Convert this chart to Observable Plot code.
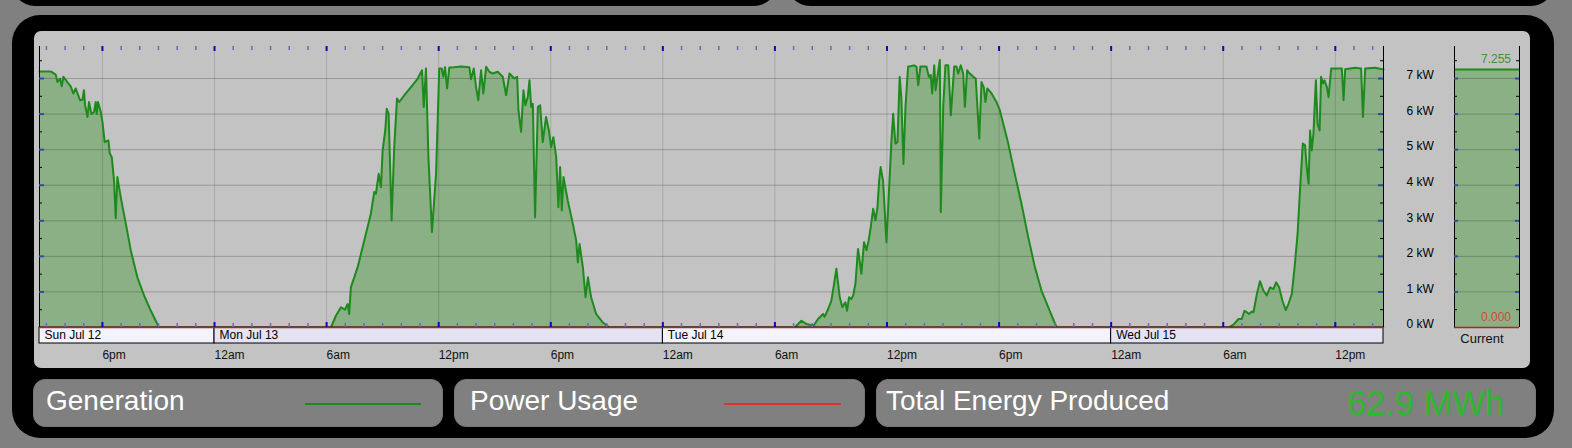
<!DOCTYPE html>
<html><head><meta charset="utf-8">
<script src="https://cdn.jsdelivr.net/npm/d3@7"></script>
<script src="https://cdn.jsdelivr.net/npm/@observablehq/plot@0.6"></script>
<style>
html,body{margin:0;padding:0;background:#808080;width:1572px;height:448px;overflow:hidden;font-family:"Liberation Sans",Arial,sans-serif;}
.abs{position:absolute;}
.box{position:absolute;background:#808080;border-radius:12px;border:1px solid #767676;box-sizing:border-box;}
</style></head><body>
<div class="abs" style="left:12px;top:-40px;width:765px;height:46px;background:#000;border-radius:28px"></div>
<div class="abs" style="left:787px;top:-40px;width:767px;height:46px;background:#000;border-radius:28px"></div>
<div class="abs" style="left:12px;top:15px;width:1542px;height:423px;background:#000;border-radius:28px"></div>
<div class="abs" style="left:34px;top:31px;width:1496px;height:337px;background:#c3c3c3;border-radius:7px"></div>
<div id="main" class="abs" style="left:34px;top:31px"></div>
<div id="cur" class="abs" style="left:1440px;top:31px"></div>

<div class="box" style="left:33px;top:379px;width:410px;height:48px"></div>
<div class="box" style="left:454px;top:379px;width:411px;height:48px"></div>
<div class="box" style="left:876px;top:379px;width:660px;height:48px"></div>
<div id="legend"></div>

<script>
// ---------- data (hours relative to Mon Jul 13 2015 00:00, kW) ----------
const sunday = [[-9.37,7.2],[-8.77,7.2],[-8.50,7.11],[-8.41,6.9],[-8.27,7.0],[-8.18,6.78],[-8.09,7.05],[-7.88,6.9],[-7.70,6.78],[-7.56,6.58],[-7.43,6.72],[-7.20,6.39],[-7.07,6.4],[-6.99,6.67],[-6.93,6.25],[-6.80,5.92],[-6.72,6.34],[-6.59,6.0],[-6.45,6.06],[-6.36,6.34],[-6.31,6.0],[-6.24,6.34],[-6.09,6.06],[-6.0,5.78],[-5.88,5.21],[-5.68,5.26],[-5.61,4.9],[-5.50,4.79],[-5.38,4.13],[-5.29,3.07],[-5.20,4.23],[-5.02,3.66],[-4.75,2.92],[-4.48,2.16],[-4.13,1.41],[-3.77,0.9],[-3.41,0.47],[-2.97,0]];
const monday = [[6.23,0],[6.50,0.33],[6.77,0.57],[6.98,0.5],[7.13,0.66],[7.21,0.38],[7.30,1.13],[7.66,1.69],[8.02,2.45],[8.37,3.2],[8.55,3.81],[8.64,3.76],[8.79,4.32],[8.91,3.95],[9.00,4.98],[9.14,5.54],[9.22,6.15],[9.32,6.01],[9.48,3.01],[9.62,5.07],[9.77,6.44],[9.89,6.34],[10.16,6.53],[10.52,6.76],[10.88,7.0],[11.11,7.23],[11.20,6.2],[11.32,7.28],[11.45,4.79],[11.64,2.68],[11.86,4.32],[12.03,7.28],[12.16,7.28],[12.25,7.05],[12.34,7.32],[12.45,6.72],[12.57,7.31],[12.84,7.32],[13.20,7.34],[13.64,7.32],[13.73,6.98],[13.88,7.28],[14.00,6.76],[14.12,6.39],[14.27,7.23],[14.39,6.58],[14.54,7.33],[14.71,7.19],[14.90,7.14],[15.16,7.19],[15.43,7.05],[15.61,6.53],[15.79,7.14],[16.05,7.0],[16.20,7.05],[16.27,6.11],[16.41,5.5],[16.54,6.67],[16.64,6.25],[16.77,6.48],[16.86,6.95],[16.95,6.2],[17.04,6.29],[17.16,3.1],[17.31,6.2],[17.43,6.25],[17.57,5.21],[17.75,5.92],[17.90,5.54],[18.02,5.07],[18.14,5.35],[18.29,4.79],[18.41,3.38],[18.50,4.51],[18.59,3.29],[18.68,4.23],[18.91,3.57],[19.18,2.92],[19.36,2.45],[19.45,1.83],[19.54,2.35],[19.72,1.69],[19.86,0.85],[19.99,1.41],[20.16,0.85],[20.43,0.38],[20.79,0.14],[21.14,0]];
const tuesday = [[31.06,0],[31.42,0.19],[31.68,0.1],[32.07,0.05],[32.31,0.24],[32.58,0.38],[32.66,0.3],[32.85,0.52],[33.02,0.75],[33.17,1.23],[33.29,1.65],[33.47,0.85],[33.61,0.57],[33.77,0.71],[33.86,0.47],[33.97,0.85],[34.09,0.8],[34.19,0.9],[34.31,1.23],[34.45,2.21],[34.63,1.51],[34.77,2.4],[34.90,2.17],[35.02,2.45],[35.13,2.82],[35.26,3.34],[35.38,3.01],[35.49,3.38],[35.58,4.13],[35.66,4.51],[35.79,4.13],[35.97,2.4],[36.09,3.66],[36.24,5.26],[36.33,6.01],[36.45,5.17],[36.56,5.21],[36.68,7.05],[36.77,6.44],[36.88,4.6],[36.99,6.2],[37.13,7.33],[37.45,7.37],[37.58,7.33],[37.67,6.81],[37.79,7.34],[38.11,7.34],[38.24,7.05],[38.34,7.1],[38.42,6.58],[38.53,7.37],[38.60,6.67],[38.70,7.05],[38.83,7.52],[38.88,3.24],[39.01,6.2],[39.13,7.37],[39.28,7.37],[39.42,5.97],[39.60,7.34],[39.72,7.34],[39.81,7.14],[39.95,7.37],[40.08,7.14],[40.17,6.2],[40.29,7.23],[40.43,7.14],[40.62,7.05],[40.75,7.0],[40.94,5.31],[41.06,6.9],[41.18,6.76],[41.27,6.34],[41.37,6.72],[41.60,6.58],[41.86,6.34],[42.04,6.11],[42.49,5.17],[42.84,4.32],[43.20,3.48],[43.56,2.54],[43.92,1.69],[44.27,1.04],[44.63,0.57],[45.08,0]];
const wednesday = [[54.28,0],[54.55,0.08],[54.82,0.24],[54.99,0.24],[55.14,0.47],[55.26,0.43],[55.38,0.38],[55.53,0.45],[55.62,0.43],[55.80,0.94],[55.97,1.3],[56.15,1.04],[56.33,0.9],[56.51,1.13],[56.69,1.08],[56.83,1.27],[56.99,1.13],[57.17,0.75],[57.35,0.49],[57.49,0.66],[57.67,0.94],[57.82,1.69],[57.98,2.63],[58.12,3.95],[58.26,5.17],[58.38,5.12],[58.47,4.51],[58.57,4.04],[58.65,5.54],[58.74,4.98],[58.83,5.45],[58.96,6.95],[59.05,5.73],[59.16,5.54],[59.24,7.05],[59.33,6.86],[59.42,6.95],[59.55,6.76],[59.64,6.48],[59.78,7.28],[59.99,7.28],[60.35,7.28],[60.44,6.39],[60.53,7.26],[61.06,7.3],[61.38,7.28],[61.48,5.92],[61.60,7.28],[62.13,7.3],[62.58,7.255]];
const usage = [[-9.37,0],[62.58,0]];

const dayLabels = ["Sun Jul 12","Mon Jul 13","Tue Jul 14","Wed Jul 15"];
const dayBounds = [-9.37, 0, 24, 48, 62.58];
const tickHours = [-6,0,6,12,18,24,30,36,42,48,54,60];
const tickLabels = ["6pm","12am","6am","12pm","6pm","12am","6am","12pm","6pm","12am","6am","12pm"];
const kwTicks = [0,1,2,3,4,5,6,7];
const currentGen = 7.255;
const currentUsage = 0;
const totalEnergy = "62.9 MWh";
const legendNames = ["Generation","Power Usage","Total Energy Produced"];

// ---------- build ----------
const base = Date.UTC(2015, 6, 13);
const t = h => new Date(base + h * 3600000);
const gen = [...sunday, ...monday, ...tuesday, ...wednesday].map(([h, k]) => ({time: t(h), kw: k}));
const use = usage.map(([h, k]) => ({time: t(h), kw: k}));
const xStart = t(dayBounds[0]), xEnd = t(dayBounds[dayBounds.length - 1]);
const days = dayLabels.map((label, i) => ({label, start: t(dayBounds[i]), end: t(dayBounds[i + 1]), alt: i % 2 === 1}));
const ticks = tickHours.map((h, i) => ({time: t(h), label: tickLabels[i]}));
const majorSet = new Set(tickHours);
const minorTimes = d3.range(Math.ceil(dayBounds[0]), Math.floor(dayBounds[4]) + 1).filter(h => !majorSet.has(h)).map(t);
const majorTimes = tickHours.map(t);
const intKW = [1,2,3,4,5,6,7];
const halfKW = [0.5,1.5,2.5,3.5,4.5,5.5,6.5,7.5];
const YMAX = 7.9;
const FILL = "rgb(140,176,133)", LINE = "#1e8a1e", RED = "#b52222";
const style = {background: "transparent", fontFamily: "'Liberation Sans', Arial, sans-serif", fontSize: "12px", color: "#000", overflow: "visible"};

const main = Plot.plot({
  width: 1406, height: 336,
  marginLeft: 5, marginRight: 57, marginTop: 15, marginBottom: 40,
  x: {type: "utc", domain: [xStart, xEnd], axis: null},
  y: {domain: [0, YMAX]},
  style,
  marks: [
    Plot.areaY(gen, {x: "time", y: "kw", fill: FILL}),
    Plot.ruleY(intKW, {stroke: "#000", strokeOpacity: 0.22}),
    Plot.ruleX(majorTimes, {y1: 0, y2: YMAX, stroke: "#000", strokeOpacity: 0.14}),
    Plot.lineY(gen, {x: "time", y: "kw", stroke: LINE, strokeWidth: 2}),
    Plot.rect(days.filter(d => !d.alt), {x1: "start", x2: "end", y1: 0, y2: 0, insetBottom: -16, fill: "#f3f3fb", stroke: "#000"}),
    Plot.rect(days.filter(d => d.alt), {x1: "start", x2: "end", y1: 0, y2: 0, insetBottom: -16, fill: "#e3e3f3", stroke: "#000"}),
    Plot.lineY(use, {x: "time", y: "kw", stroke: RED, strokeWidth: 1.5}),
    Plot.text(days, {x: "start", y: 0, text: "label", dx: 5, dy: 8, textAnchor: "start", fontSize: 12, fill: "#000"}),
    Plot.text(ticks, {x: "time", y: 0, text: "label", dy: 27.5, textAnchor: "start", fontSize: 12, fill: "#111"}),
    Plot.ruleX([xStart, xEnd], {y1: 0, y2: YMAX, stroke: "#000"}),
    Plot.ruleY(intKW, {x1: xStart, x2: xStart, insetRight: -5, stroke: "#2b4fa8", strokeWidth: 2}),
    Plot.ruleY(halfKW, {x1: xStart, x2: xStart, insetRight: -3, stroke: "#000", strokeWidth: 1}),
    Plot.ruleY(intKW, {x1: xEnd, x2: xEnd, insetLeft: -5, stroke: "#2b4fa8", strokeWidth: 2}),
    Plot.ruleY(halfKW, {x1: xEnd, x2: xEnd, insetLeft: -3, stroke: "#000", strokeWidth: 1}),
    Plot.ruleX(minorTimes, {y1: YMAX, y2: YMAX, insetBottom: -4, stroke: "#6a6ab8", strokeWidth: 1.5}),
    Plot.ruleX(majorTimes, {y1: YMAX, y2: YMAX, insetBottom: -5, stroke: "#0a0ab0", strokeWidth: 2}),
    Plot.ruleX(minorTimes, {y1: 0, y2: 0, insetTop: -4, stroke: "#6a6ab8", strokeWidth: 1.5}),
    Plot.ruleX(majorTimes, {y1: 0, y2: 0, insetTop: -5, stroke: "#0a0ab0", strokeWidth: 2}),
    Plot.axisY({ticks: kwTicks, anchor: "right", tickSize: 0, tickPadding: 23, dy: -3, tickFormat: d => `${d} kW`, fontSize: 12, label: null, fill: "#000"})
  ]
});
document.getElementById("main").appendChild(main);

const cur = Plot.plot({
  width: 86, height: 336,
  marginLeft: 14, marginRight: 7, marginTop: 15, marginBottom: 40,
  x: {domain: [0, 1], axis: null},
  y: {domain: [0, YMAX], axis: null},
  style,
  marks: [
    Plot.areaY([{x: 0, kw: currentGen}, {x: 1, kw: currentGen}], {x: "x", y: "kw", fill: FILL}),
    Plot.ruleY(intKW, {stroke: "#000", strokeOpacity: 0.22}),
    Plot.ruleY([currentGen], {stroke: LINE, strokeWidth: 2}),
    Plot.ruleY([currentUsage], {stroke: RED, strokeWidth: 1.5}),
    Plot.ruleX([0, 1], {y1: 0, y2: YMAX, stroke: "#000"}),
    Plot.ruleY(intKW, {x1: 0, x2: 0, insetRight: -4, stroke: "#2b4fa8", strokeWidth: 2}),
    Plot.ruleY(halfKW, {x1: 0, x2: 0, insetRight: -3, stroke: "#000"}),
    Plot.ruleY(intKW, {x1: 1, x2: 1, insetLeft: -4, stroke: "#2b4fa8", strokeWidth: 2}),
    Plot.ruleY(halfKW, {x1: 1, x2: 1, insetLeft: -3, stroke: "#000"}),
    Plot.text([currentGen], {x: 1, y: d => d, text: d => d.toFixed(3), dx: -8.5, dy: -10, textAnchor: "end", fill: "#3a943a", fontSize: 12}),
    Plot.text([currentUsage], {x: 1, y: d => d, text: d => d.toFixed(3), dx: -8.5, dy: -10, textAnchor: "end", fill: "#d04a3a", fontSize: 12}),
    Plot.text(["Current"], {x: 0.5, y: 0, text: d => d, dx: -5, dy: 11, fontSize: 13, fill: "#111"})
  ]
});
document.getElementById("cur").appendChild(cur);

// legend
const lg = document.getElementById("legend");
const mk = (html, css) => { const d = document.createElement("div"); d.textContent = html; d.style.cssText = css; lg.appendChild(d); return d; };
mk(legendNames[0], "position:absolute;left:46px;top:387px;color:#fff;font-size:28px;line-height:28px;white-space:nowrap");
mk(legendNames[1], "position:absolute;left:470px;top:387px;color:#fff;font-size:28px;line-height:28px;white-space:nowrap");
mk(legendNames[2], "position:absolute;left:886px;top:387px;color:#fff;font-size:28px;line-height:28px;white-space:nowrap");
mk("", `position:absolute;left:305px;top:403px;width:116px;height:2px;background:${LINE}`);
mk("", `position:absolute;left:724px;top:403px;width:117px;height:2px;background:#e03030`);
mk(totalEnergy, "position:absolute;left:1347px;top:386px;color:#2db82d;font-size:34.5px;line-height:34.5px;white-space:nowrap");
</script>
</body></html>
